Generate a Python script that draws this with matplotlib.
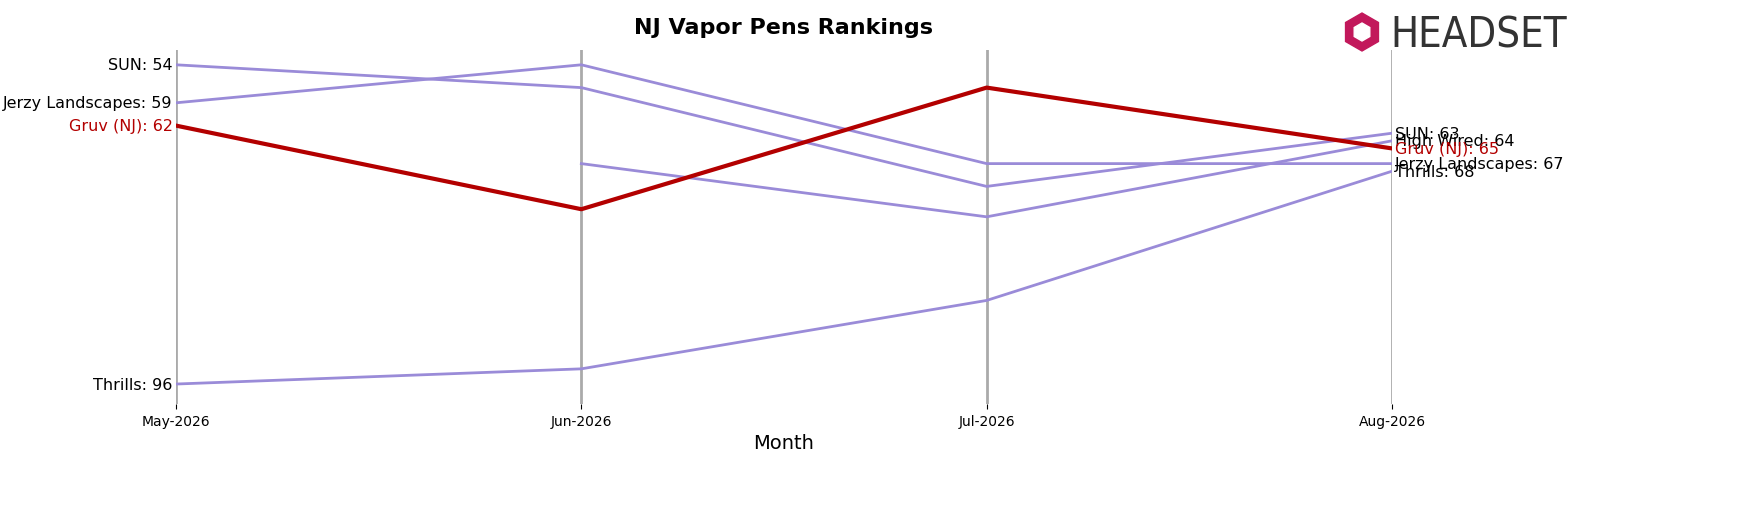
import matplotlib.pyplot as plt
from matplotlib.patches import RegularPolygon

months = ["May-2026", "Jun-2026", "Jul-2026", "Aug-2026"]
brands = ["SUN", "Jerzy Landscapes", "Thrills", "High Wired", "Gruv (NJ)"]
sun = [54, 57, 70, 63]
jerzy = [59, 54, 67, 67]
thrills = [96, 94, 85, 68]
high_wired = [None, 67, 74, 64]
gruv = [62, 73, 57, 65]
series = [sun, jerzy, thrills, high_wired, gruv]

fig = plt.figure(figsize=(17.49, 5.06), dpi=100)
ax = fig.add_axes([176 / 1749, 0.2, (1392 - 176) / 1749, 0.7])

x = list(range(len(months)))
for i in x:
    ax.axvline(i, color="#aaaaaa", lw=2, zorder=0)

for name, vals in zip(brands, series):
    pts = [(i, v) for i, v in zip(x, vals) if v is not None]
    xs = [p[0] for p in pts]
    ys = [p[1] for p in pts]
    if name == "Gruv (NJ)":
        ax.plot(xs, ys, color="#b30000", lw=3, zorder=3)
        col = "#b30000"
    else:
        ax.plot(xs, ys, color="#9a8bd8", lw=2, zorder=2)
        col = "black"
    if xs[0] == 0:
        ax.text(-0.008, ys[0], f"{name}: {ys[0]}", ha="right", va="center", fontsize=11.5, color=col)
    ax.text(3.008, ys[-1], f"{name}: {ys[-1]}", ha="left", va="center", fontsize=11.5, color=col)

ax.set_ylim(98.6, 52)
ax.set_xlim(0, 3)
ax.set_yticks([])
ax.set_xticks(x)
ax.set_xticklabels(months)
ax.set_xlabel("Month", fontsize=14)
for s in ax.spines.values():
    s.set_visible(False)
ax.set_title("NJ Vapor Pens Rankings", fontsize=16, fontweight="bold", pad=12)

# logo (hexagon placed in inches so it stays regular)
fig.patches.append(RegularPolygon((13.62, 5.06 - 0.33), 6, radius=0.19,
                                  transform=fig.dpi_scale_trans, color="#c2185b", figure=fig))
fig.patches.append(RegularPolygon((13.62, 5.06 - 0.33), 6, radius=0.09,
                                  transform=fig.dpi_scale_trans, color="white", figure=fig))
fig.text(1390 / 1749, 1 - 35 / 506, "HEADSET", fontsize=30, color="#333333", ha="left", va="center", fontstretch="condensed")

fig.savefig("out.png")
